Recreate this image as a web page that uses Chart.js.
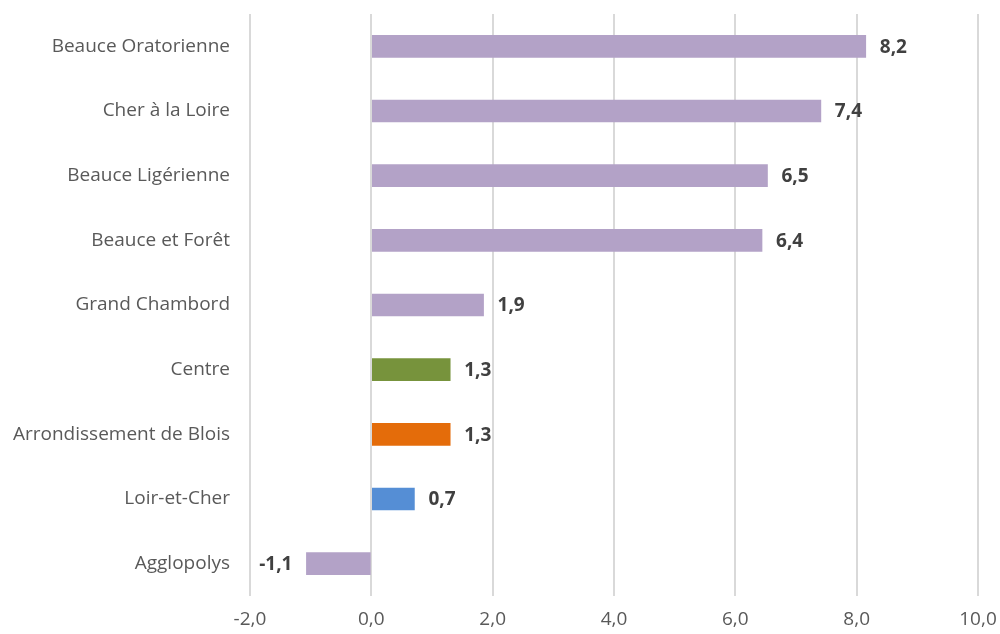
<!DOCTYPE html>
<html lang="fr">
<head>
    <meta charset="UTF-8">
    <title>Evolution par territoire</title>
    <script src="https://cdn.jsdelivr.net/npm/chart.js"></script>
    <style>
        html, body {
            margin: 0;
            padding: 0;
            background: #ffffff;
        }
        #wrap {
            width: 1000px;
            height: 634px;
        }
    </style>
</head>
<body>
    <div id="wrap">
        <canvas id="chart"></canvas>
    </div>

    <script>
        // donnees
        const territoires = [
            'Beauce Oratorienne',
            'Cher à la Loire',
            'Beauce Ligérienne',
            'Beauce et Forêt',
            'Grand Chambord',
            'Centre',
            'Arrondissement de Blois',
            'Loir-et-Cher',
            'Agglopolys'
        ];
        const valeurs = [8.15, 7.41, 6.53, 6.44, 1.85, 1.30, 1.30, 0.71, -1.07];
        const couleurs = ['#B3A2C7', '#B3A2C7', '#B3A2C7', '#B3A2C7', '#B3A2C7', '#77933C', '#E46C0A', '#558ED5', '#B3A2C7'];

        const xMin = -2;
        const xMax = 10;
        const xPas = 2;

        const fmt = v => v.toFixed(1).replace('.', ',');

        // etiquettes de valeur au bout des barres
        const etiquettes = {
            id: 'etiquettes',
            afterDatasetsDraw(chart) {
                const ctx = chart.ctx;
                const meta = chart.getDatasetMeta(0);
                ctx.save();
                ctx.font = 'bold 19px "Open Sans", sans-serif';
                ctx.fillStyle = '#404040';
                ctx.textBaseline = 'middle';
                meta.data.forEach((bar, i) => {
                    const v = valeurs[i];
                    if (v >= 0) {
                        ctx.textAlign = 'left';
                        ctx.fillText(fmt(v), bar.x + 14, bar.y + 1);
                    } else {
                        ctx.textAlign = 'right';
                        ctx.fillText(fmt(v), bar.x - 14, bar.y + 1);
                    }
                });
                ctx.restore();
            }
        };

        new Chart(document.getElementById('chart'), {
            type: 'bar',
            data: {
                labels: territoires,
                datasets: [{
                    data: valeurs,
                    backgroundColor: couleurs,
                    barThickness: 22,
                    borderWidth: 0
                }]
            },
            plugins: [etiquettes],
            options: {
                indexAxis: 'y',
                responsive: true,
                maintainAspectRatio: false,
                animation: false,
                layout: {
                    padding: { top: 14, right: 22, left: 0, bottom: 0 }
                },
                plugins: {
                    legend: { display: false },
                    tooltip: { enabled: false }
                },
                scales: {
                    x: {
                        min: xMin,
                        max: xMax,
                        border: { display: false },
                        grid: {
                            color: '#D9D9D9',
                            lineWidth: 2,
                            drawTicks: false
                        },
                        ticks: {
                            stepSize: xPas,
                            padding: 12,
                            color: '#595959',
                            font: { family: '"Open Sans", sans-serif', size: 19 },
                            callback: v => fmt(v)
                        },
                        afterFit(scale) {
                            scale.height = 38;
                            scale.paddingLeft = 0;
                            scale.paddingRight = 0;
                        }
                    },
                    y: {
                        border: { display: false },
                        grid: { display: false, drawTicks: false },
                        ticks: {
                            padding: 20,
                            color: '#595959',
                            font: { family: '"Open Sans", sans-serif', size: 19 }
                        },
                        afterFit(scale) {
                            scale.width = 250;
                            scale.paddingTop = 0;
                            scale.paddingBottom = 0;
                        }
                    }
                }
            }
        });
    </script>
</body>
</html>
